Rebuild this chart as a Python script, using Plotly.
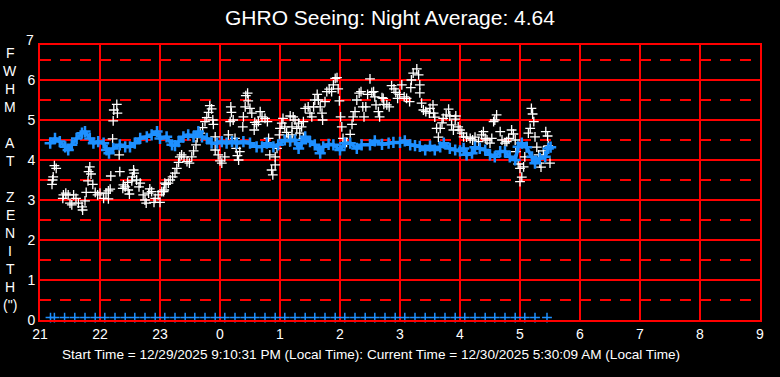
import plotly.graph_objects as go

# ---------------- data ----------------
title_text = "GHRO Seeing: Night Average: 4.64"
footer_text = ("Start Time = 12/29/2025 9:10:31 PM (Local Time): "
               "Current Time = 12/30/2025 5:30:09 AM (Local Time)")

x_tick_vals = [21, 22, 23, 24, 25, 26, 27, 28, 29, 30, 31, 32, 33]
x_tick_text = ["21", "22", "23", "0", "1", "2", "3", "4", "5", "6", "7", "8", "9"]
y_tick_vals = [0, 1, 2, 3, 4, 5, 6]
y_top_label = "7"
y_half_lines = [0.5, 1.5, 2.5, 3.5, 4.5, 5.5, 6.5]
y_label_letters = ["F", "W", "H", "M", "", "A", "T", "", "Z", "E", "N", "I", "T", "H", "(\")"]

# blue smoothed seeing (hour, FWHM)
blue_hours = [21.17, 21.25, 21.33, 21.42, 21.47, 21.53, 21.61, 21.70, 21.75, 21.83, 21.89, 21.97,
              22.06, 22.11, 22.15, 22.22, 22.33, 22.42, 22.50, 22.58, 22.67, 22.78, 22.86, 22.95,
              23.00, 23.11, 23.20, 23.25, 23.31, 23.39, 23.47, 23.56, 23.64, 23.70, 23.78, 23.86,
              23.95, 24.03, 24.11, 24.20, 24.28, 24.39, 24.50, 24.61, 24.70, 24.78, 24.89, 24.97,
              25.08, 25.17, 25.25, 25.31, 25.36, 25.42, 25.50, 25.58, 25.67, 25.72, 25.81, 25.89,
              26.00, 26.08, 26.17, 26.28, 26.36, 26.50, 26.58, 26.70, 26.81, 26.89, 27.00, 27.08,
              27.17, 27.25, 27.33, 27.42, 27.50, 27.58, 27.67, 27.73, 27.83, 27.92, 28.00, 28.06,
              28.11, 28.20, 28.25, 28.33, 28.42, 28.50, 28.58, 28.67, 28.75, 28.83, 28.92, 28.97,
              29.03, 29.11, 29.20, 29.25, 29.33, 29.42, 29.47, 29.51]
blue_fwhm = [4.42, 4.54, 4.46, 4.33, 4.25, 4.38, 4.54, 4.67, 4.71, 4.54, 4.42, 4.46,
             4.42, 4.25, 4.17, 4.29, 4.38, 4.33, 4.33, 4.42, 4.54, 4.58, 4.63, 4.71,
             4.54, 4.58, 4.38, 4.36, 4.46, 4.58, 4.63, 4.58, 4.71, 4.58, 4.54, 4.42,
             4.42, 4.46, 4.42, 4.46, 4.42, 4.46, 4.42, 4.33, 4.33, 4.42, 4.33, 4.38,
             4.50, 4.48, 4.50, 4.29, 4.42, 4.58, 4.46, 4.38, 4.17, 4.33, 4.39, 4.38,
             4.25, 4.42, 4.42, 4.29, 4.38, 4.38, 4.48, 4.39, 4.42, 4.44, 4.44, 4.48,
             4.38, 4.36, 4.34, 4.25, 4.35, 4.25, 4.33, 4.42, 4.29, 4.25, 4.23, 4.29,
             4.13, 4.17, 4.32, 4.29, 4.25, 4.13, 4.08, 4.21, 4.21, 4.08, 4.00, 4.33,
             4.42, 4.32, 4.08, 3.92, 4.04, 4.08, 4.29, 4.32]

# individual measurements (hour, FWHM)
white_hours = [21.20, 21.21, 21.22, 21.24, 21.27, 21.38, 21.39, 21.43, 21.47, 21.50, 21.53, 21.56,
               21.60, 21.64, 21.70, 21.71, 21.75, 21.77, 21.80, 21.81, 21.83, 21.85, 21.88, 21.92,
               21.96, 22.00, 22.06, 22.10, 22.14, 22.17, 22.14, 22.18, 22.21, 22.22, 22.23, 22.28,
               22.29, 22.32, 22.33, 22.38, 22.39, 22.42, 22.46, 22.47, 22.49, 22.53, 22.54, 22.56,
               22.57, 22.61, 22.65, 22.67, 22.72, 22.75, 22.77, 22.81, 22.83, 22.86, 22.90, 22.92,
               22.97, 23.00, 23.03, 23.06, 23.07, 23.08, 23.10, 23.14, 23.17, 23.21, 23.25, 23.28,
               23.31, 23.33, 23.36, 23.40, 23.45, 23.49, 23.53, 23.56, 23.60, 23.62, 23.67, 23.71,
               23.75, 23.78, 23.81, 23.83, 23.86, 23.88, 23.89, 23.92, 23.92, 23.97, 24.00, 24.03,
               24.08, 24.14, 24.17, 24.18, 24.19, 24.22, 24.25, 24.27, 24.29, 24.31, 24.33, 24.38,
               24.39, 24.42, 24.43, 24.46, 24.47, 24.50, 24.53, 24.57, 24.58, 24.61, 24.64, 24.67,
               24.70, 24.75, 24.79, 24.81, 24.83, 24.86, 24.88, 24.92, 24.92, 24.95, 24.99, 25.00,
               25.03, 25.05, 25.08, 25.11, 25.14, 25.16, 25.17, 25.20, 25.20, 25.22, 25.25, 25.28,
               25.31, 25.33, 25.36, 25.39, 25.39, 25.42, 25.47, 25.50, 25.53, 25.56, 25.58, 25.62,
               25.64, 25.67, 25.70, 25.71, 25.75, 25.78, 25.82, 25.86, 25.89, 25.92, 25.95, 25.97,
               25.99, 26.01, 26.03, 26.05, 26.11, 26.17, 26.20, 26.22, 26.25, 26.28, 26.32, 26.35,
               26.38, 26.40, 26.43, 26.46, 26.50, 26.53, 26.56, 26.58, 26.60, 26.64, 26.66, 26.70,
               26.72, 26.73, 26.78, 26.82, 26.86, 26.90, 26.93, 26.96, 26.99, 27.03, 27.07, 27.11,
               27.16, 27.18, 27.19, 27.22, 27.28, 27.31, 27.33, 27.33, 27.36, 27.39, 27.43, 27.49,
               27.50, 27.55, 27.56, 27.58, 27.61, 27.64, 27.67, 27.70, 27.72, 27.77, 27.81, 27.83,
               27.86, 27.89, 27.92, 27.93, 27.97, 28.00, 28.03, 28.06, 28.11, 28.17, 28.21, 28.25,
               28.31, 28.36, 28.39, 28.42, 28.45, 28.50, 28.53, 28.56, 28.58, 28.61, 28.67, 28.70,
               28.75, 28.78, 28.81, 28.86, 28.89, 28.92, 28.93, 28.97, 29.00, 29.03, 29.00, 29.06,
               29.08, 29.12, 29.14, 29.17, 29.19, 29.21, 29.23, 29.25, 29.28, 29.31, 29.33, 29.35,
               29.39, 29.43, 29.46, 29.47, 29.50]
white_fwhm = [3.39, 3.50, 3.58, 3.86, 3.79, 3.04, 3.13, 3.17, 3.13, 2.92, 2.88, 3.13,
              3.04, 2.92, 2.83, 2.75, 2.98, 3.19, 3.48, 3.71, 3.83, 3.65, 3.39, 3.19,
              3.13, 3.17, 3.04, 3.17, 3.23, 3.27, 3.03, 3.60, 4.53, 4.98, 5.25, 5.39,
              5.17, 4.13, 3.71, 3.29, 3.38, 3.33, 3.44, 3.25, 3.15, 3.48, 3.58, 3.75,
              3.67, 3.50, 3.33, 3.42, 3.13, 3.00, 2.92, 3.17, 3.28, 3.21, 2.94, 3.04,
              3.13, 2.94, 3.21, 3.21, 3.25, 3.42, 3.39, 3.42, 3.50, 3.58, 3.67, 3.79,
              3.94, 4.08, 4.13, 4.08, 3.96, 3.92, 4.08, 4.23, 4.38, 4.56, 4.67, 4.81,
              4.96, 5.06, 5.19, 5.36, 5.28, 5.00, 4.89, 4.58, 4.25, 4.13, 3.98, 3.92,
              4.08, 4.63, 4.96, 5.33, 5.19, 5.00, 4.54, 4.29, 4.11, 4.00, 4.21, 4.83,
              5.08, 5.33, 5.61, 5.67, 5.48, 5.29, 5.17, 4.75, 4.94, 4.89, 4.96, 5.21,
              5.08, 5.04, 4.96, 4.54, 4.13, 3.75, 3.63, 3.88, 4.08, 4.29, 4.63, 4.79,
              4.92, 5.04, 4.83, 4.69, 4.58, 4.46, 5.10, 4.83, 4.63, 5.08, 5.00, 4.79,
              4.92, 4.67, 4.83, 4.96, 4.54, 5.29, 5.33, 5.17, 5.08, 5.33, 5.50, 5.64,
              5.50, 5.33, 5.17, 5.00, 5.46, 5.71, 5.77, 5.71, 5.88, 6.04, 6.06, 5.78,
              5.48, 5.08, 4.83, 4.54, 4.44, 4.64, 4.89, 5.08, 5.21, 5.50, 5.67, 5.71,
              5.33, 5.08, 5.33, 5.64, 6.03, 5.69, 5.71, 5.58, 5.38, 5.21, 5.08, 5.56,
              5.54, 5.39, 5.38, 5.33, 5.86, 5.78, 5.69, 5.54, 5.64, 5.88, 5.58, 5.54,
              5.46, 5.81, 6.00, 6.17, 6.28, 6.13, 5.88, 5.68, 5.42, 5.25, 5.21, 5.17,
              5.29, 5.38, 5.17, 5.07, 4.79, 4.57, 4.79, 4.93, 5.04, 5.13, 5.27, 5.10,
              4.88, 4.75, 5.02, 5.10, 4.83, 4.75, 4.67, 4.58, 4.57, 4.54, 4.50, 4.57,
              4.46, 4.63, 4.71, 4.54, 4.50, 4.42, 4.54, 4.96, 5.00, 5.13, 4.71, 4.50,
              4.42, 4.46, 4.54, 4.75, 4.65, 4.50, 4.21, 3.90, 3.79, 3.57, 3.46, 3.83,
              4.08, 4.32, 4.67, 4.79, 5.29, 5.15, 4.96, 4.58, 4.32, 4.13, 3.92, 3.82,
              4.23, 4.71, 4.60, 4.35, 3.92]

# measurements above the top of the scale, drawn at the ceiling
clipped_hours = [21.30, 21.32, 21.34]
clipped_fwhm = [6.93, 6.95, 6.93]

# sample markers along the baseline
sample_hours = [21.175, 21.24, 21.41, 21.58, 21.75, 21.92, 22.08, 22.25, 22.42, 22.58, 22.75, 22.92,
                23.08, 23.25, 23.42, 23.58, 23.75, 23.92, 24.08, 24.25, 24.42, 24.58, 24.75, 24.92,
                25.08, 25.25, 25.42, 25.58, 25.75, 25.92, 26.08, 26.25, 26.42, 26.58, 26.75, 26.92,
                27.08, 27.25, 27.42, 27.58, 27.75, 27.92, 28.08, 28.25, 28.42, 28.58, 28.75, 28.92,
                29.08, 29.25, 29.45]
sample_level = [0.06] * len(sample_hours)

# ---------------- figure ----------------
RED = "#ff0000"
BLUE = "#1e90ff"
FONT = "Liberation Sans, Arial, sans-serif"
Y_MAX = 6.875
PLOT_H = 275  # plot-area height in px

fig = go.Figure()

fig.add_trace(go.Scatter(
    x=white_hours, y=white_fwhm, mode="markers",
    marker=dict(symbol="cross-thin", size=7, line=dict(color="white", width=1.3)),
    hoverinfo="skip", showlegend=False))

fig.add_trace(go.Scatter(
    x=clipped_hours, y=clipped_fwhm, mode="markers", cliponaxis=False,
    marker=dict(symbol="cross-thin", size=7, line=dict(color="white", width=2.5)),
    hoverinfo="skip", showlegend=False))

fig.add_trace(go.Scatter(
    x=blue_hours, y=blue_fwhm, mode="lines+markers",
    line=dict(color=BLUE, width=3.5),
    marker=dict(symbol="cross-thin", size=8, line=dict(color=BLUE, width=2.5)),
    hoverinfo="skip", showlegend=False))

fig.add_trace(go.Scatter(
    x=sample_hours, y=sample_level, mode="markers", cliponaxis=False,
    marker=dict(symbol="cross-thin", size=7, line=dict(color=BLUE, width=1.5)),
    hoverinfo="skip", showlegend=False))

shapes = []
for yv in y_half_lines:
    shapes.append(dict(type="line", xref="x", yref="y", x0=x_tick_vals[0], x1=x_tick_vals[-1],
                       y0=yv, y1=yv, line=dict(color=RED, width=2, dash="11px,9px"),
                       layer="below"))

annotations = [
    dict(text=y_top_label, xref="paper", yref="paper", x=0, y=1, xanchor="right",
         yanchor="middle", xshift=-4, yshift=(7 - Y_MAX) / Y_MAX * PLOT_H, showarrow=False,
         font=dict(family=FONT, size=14, color="white")),
    dict(text=footer_text, xref="paper", yref="paper", x=0.46, y=-0.127,
         xanchor="center", yanchor="middle", showarrow=False,
         font=dict(family="Liberation Sans Narrow, Arial Narrow, " + FONT, size=13.6, color="white")),
]
# stacked vertical axis label, one letter per row (18 px pitch, first row 53 px from top)
for i, letter in enumerate(y_label_letters):
    if not letter:
        continue
    annotations.append(dict(text=letter, xref="paper", yref="paper", x=0, xshift=-30,
                            y=(275 - (53 - 45) - 18 * i) / PLOT_H, xanchor="center",
                            yanchor="middle", showarrow=False,
                            font=dict(family=FONT, size=14, color="white")))

fig.update_layout(
    width=780, height=377,
    paper_bgcolor="black", plot_bgcolor="black",
    margin=dict(l=40, r=20, t=45, b=57),
    title=dict(text=title_text, x=0.5, xanchor="center", y=0.952, yanchor="middle",
               font=dict(family=FONT, size=21, color="white")),
    shapes=shapes, annotations=annotations,
    xaxis=dict(range=[x_tick_vals[0], x_tick_vals[-1]], tickvals=x_tick_vals, ticktext=x_tick_text,
               showgrid=True, gridcolor=RED, gridwidth=2, zeroline=False,
               showline=True, linecolor=RED, linewidth=2, mirror=True,
               ticks="", tickfont=dict(family=FONT, size=14, color="white")),
    yaxis=dict(range=[0, Y_MAX], tickvals=y_tick_vals,
               showgrid=True, gridcolor=RED, gridwidth=2, zeroline=False,
               showline=True, linecolor=RED, linewidth=2, mirror=True,
               ticks="", tickfont=dict(family=FONT, size=14, color="white")),
)

fig.write_html("out.html", config={"displayModeBar": False},
               post_script="document.body.style.margin='0';document.body.style.background='black';")
